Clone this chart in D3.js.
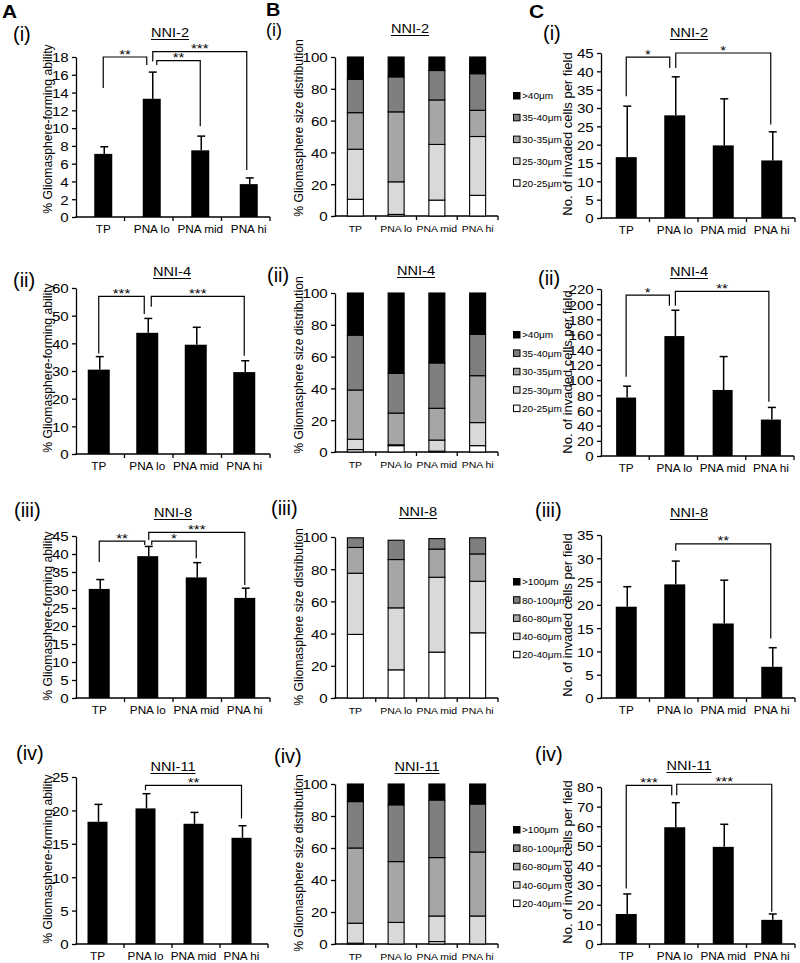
<!DOCTYPE html>
<html><head><meta charset="utf-8">
<script src="https://cdn.jsdelivr.net/npm/d3@7"></script>
<style>
body{margin:0;background:#fff}
svg{display:block}
text{font-family:"Liberation Sans",Arial,Helvetica,sans-serif;fill:#000}
</style>
</head><body>
<svg id="chart" width="800" height="963"></svg>
<script>
// ---------------- DATA ----------------
const categories = ["TP", "PNA lo", "PNA mid", "PNA hi"];

// Column A: % Gliomasphere-forming ability (mean, error)
const formNNI2 = [7.1, 13.3, 7.5, 3.7];
const formNNI2Err = [0.8, 3.0, 1.6, 0.7];
const formNNI2Ticks = [0, 2, 4, 6, 8, 10, 12, 14, 16, 18];
const formNNI4 = [30.5, 43.8, 39.5, 29.6];
const formNNI4Err = [4.7, 5.2, 6.3, 4.1];
const formNNI4Ticks = [0, 10, 20, 30, 40, 50, 60];
const formNNI8 = [30.3, 39.4, 33.5, 27.8];
const formNNI8Err = [2.6, 2.7, 4.1, 2.7];
const formNNI8Ticks = [0, 5, 10, 15, 20, 25, 30, 35, 40, 45];
const formNNI11 = [18.3, 20.3, 18.0, 15.9];
const formNNI11Err = [2.6, 2.2, 1.7, 1.8];
const formNNI11Ticks = [0, 5, 10, 15, 20, 25];

// Column C: No. of invaded cells per field (mean, error)
const invNNI2 = [16.6, 28.0, 19.8, 15.7];
const invNNI2Err = [13.9, 10.5, 12.7, 7.8];
const invNNI2Ticks = [0, 5, 10, 15, 20, 25, 30, 35, 40, 45];
const invNNI4 = [77, 158, 87, 48];
const invNNI4Err = [15, 34, 44, 16];
const invNNI4Ticks = [0, 20, 40, 60, 80, 100, 120, 140, 160, 180, 200, 220];
const invNNI8 = [19.6, 24.4, 16.0, 6.7];
const invNNI8Err = [4.3, 5.0, 9.3, 4.1];
const invNNI8Ticks = [0, 5, 10, 15, 20, 25, 30, 35];
const invNNI11 = [15.3, 59.5, 49.5, 12.3];
const invNNI11Err = [10.2, 12.5, 11.5, 3.0];
const invNNI11Ticks = [0, 10, 20, 30, 40, 50, 60, 70, 80];

// Significance brackets: [from, to, label, level, leftLegEnd, rightLegEnd]
const sigFormNNI2 = [[0, 1, "**", 18.0, 14.5, 17.1], [1, 3, "***", 18.6, 17.5, 5.3], [1, 2, "**", 17.6, 17.1, 10.2]];
const sigFormNNI4 = [[0, 1, "***", 57.0, 36.3, 50.6], [1, 3, "***", 57.0, 53.2, 35.5]];
const sigFormNNI8 = [[0, 1, "**", 43.6, 37.8, 42.5], [1, 3, "***", 46.0, 43.9, 31.4], [1, 2, "*", 43.6, 42.5, 38.8]];
const sigFormNNI11 = [[1, 3, "**", 23.75, 23.0, 18.8]];
const sigInvNNI2 = [[0, 1, "*", 43.9, 33.2, 40.9], [1, 3, "*", 45.0, 40.9, 25.5]];
const sigInvNNI4 = [[0, 1, "*", 212, 104.5, 198], [1, 3, "**", 217, 198, 71.6]];
const sigInvNNI8 = [[1, 3, "**", 33.1, 31.6, 12.8]];
const sigInvNNI11 = [[0, 1, "***", 80.8, 28.3, 75.8], [1, 3, "***", 81.4, 75.8, 16.4]];

// Column B: % Gliomasphere size distribution (segments, bottom to top)
const sizeKeysSmall = ["20-25μm", "25-30μm", "30-35μm", "35-40μm", ">40μm"];
const sizeKeysLarge = ["20-40μm", "40-60μm", "60-80μm", "80-100μm", ">100μm"];
const sizeTicks = [0, 20, 40, 60, 80, 100];
const sizeNNI2 = [[10.5, 31.5, 23, 21, 14], [1, 20.5, 44, 22, 12.5], [10, 35, 28, 18.5, 8.5], [13, 37, 16.5, 23, 10.5]];
const sizeNNI4 = [[1.5, 6.5, 31, 34.5, 26.5], [4, 0.5, 20, 25, 50.5], [0.5, 7, 20, 28.5, 44], [4, 14.5, 29.5, 26, 26]];
const sizeNNI8 = [[39.5, 38, 16, 6, 0], [17.5, 38.5, 30, 12, 0], [28.5, 46.5, 17.5, 6.5, 0], [40.5, 32, 17, 10, 0]];
const sizeNNI11 = [[0.5, 12.5, 47, 29, 11], [0, 13.5, 38, 35.5, 13], [1.5, 16, 36.5, 36, 10], [0, 17.5, 40, 30, 12.5]];

// ---------------- STYLE / LAYOUT ----------------
const segColors = ["#ffffff", "#d9d9d9", "#a6a6a6", "#7f7f7f", "#000000"];
const SX = 1.12; // horizontal text stretch of the original

const svg = d3.select("#chart");

function htext(g, x, y, s, size, anchor, sx, weight) {
  return g.append("text")
    .attr("transform", `translate(${x},${y}) scale(${sx == null ? SX : sx},1)`)
    .attr("text-anchor", anchor || "start")
    .attr("font-size", size)
    .attr("font-weight", weight || "normal")
    .text(s);
}

function frame(L, ticks, yTitle, yTitleSize, title, roman, catSize, catSx) {
  const g = svg.append("g");
  const xb = d3.scaleBand().domain(categories).range([L.x0, L.x1]);
  const y = d3.scaleLinear().domain([0, L.max]).range([L.y0, L.y1]);
  // y axis
  const ya = g.append("g").attr("transform", `translate(${L.x0},0)`)
    .call(d3.axisLeft(y).tickValues(ticks).tickSize(4).tickSizeOuter(0).tickPadding(2.5).tickFormat(d3.format("d")));
  ya.select(".domain").attr("stroke", "#000").attr("stroke-width", 1.3);
  ya.selectAll(".tick line").attr("stroke", "#000").attr("stroke-width", 1.3);
  ya.selectAll(".tick text").attr("font-size", 13.5).attr("font-family", "Liberation Sans, Arial, sans-serif")
    .attr("fill", "#000").attr("dy", "0.36em").attr("transform", `scale(${SX},1)`);
  // x axis
  g.append("line").attr("x1", L.x0 - 0.6).attr("x2", L.x1).attr("y1", L.y0).attr("y2", L.y0)
    .attr("stroke", "#000").attr("stroke-width", 1.3);
  const bounds = categories.slice(1).map(c => xb(c)).concat([L.x1]);
  g.selectAll(".xt").data(bounds).enter().append("line")
    .attr("x1", d => d).attr("x2", d => d).attr("y1", L.y0).attr("y2", L.y0 + 4)
    .attr("stroke", "#000").attr("stroke-width", 1.3);
  const cx = c => xb(c) + xb.bandwidth() / 2 + (L.shift || 0);
  categories.forEach(c => htext(g, cx(c), L.y0 + 15.5, c, catSize, "middle", catSx));
  // y title
  g.append("text").attr("transform", `translate(${L.ytx},${L.yty}) rotate(-90)`)
    .attr("text-anchor", "middle").attr("dominant-baseline", "central")
    .attr("font-size", yTitleSize).text(yTitle);
  // title (underlined)
  const t = htext(g, L.tx, L.ty, title, 13, "middle");
  const w = t.node().getComputedTextLength() * SX;
  g.append("line").attr("x1", L.tx - w / 2).attr("x2", L.tx + w / 2)
    .attr("y1", L.ty + 2.5).attr("y2", L.ty + 2.5).attr("stroke", "#000").attr("stroke-width", 1);
  // roman numeral
  htext(g, L.rx, L.ry, roman, L.rs || 20, "start", 1);
  return {g, xb, y, cx};
}

function barPanel(P) {
  const {g, y, cx} = frame(P.L, P.ticks, P.yTitle, P.yTitleSize, P.title, P.roman, 10.5, SX);
  const bw = P.L.barW;
  // error bars
  categories.forEach((c, i) => {
    const x = cx(c) + 1;
    g.append("line").attr("x1", x).attr("x2", x).attr("y1", y(P.vals[i])).attr("y2", y(P.vals[i] + P.err[i]))
      .attr("stroke", "#000").attr("stroke-width", 1.5);
    g.append("line").attr("x1", x - 4).attr("x2", x + 4).attr("y1", y(P.vals[i] + P.err[i])).attr("y2", y(P.vals[i] + P.err[i]))
      .attr("stroke", "#000").attr("stroke-width", 1.5);
  });
  g.selectAll(".bar").data(P.vals).enter().append("rect")
    .attr("x", (d, i) => cx(categories[i]) - bw / 2).attr("width", bw)
    .attr("y", d => y(d)).attr("height", d => P.L.y0 - y(d)).attr("fill", "#000");
  // brackets
  P.sig.forEach((s, k) => {
    const off = P.legOff[k];
    const xa = cx(categories[s[0]]) + off[0], xc = cx(categories[s[1]]) + off[1];
    g.append("path").attr("d", `M${xa},${y(s[4])}V${y(s[3])}H${xc}V${y(s[5])}`)
      .attr("fill", "none").attr("stroke", "#000").attr("stroke-width", 1.2);
    htext(g, (xa + xc) / 2, y(s[3]) + 1.5, s[2], 12.5, "middle", 1.2);
  });
}

function stackPanel(P) {
  const {g, y, cx} = frame(P.L, sizeTicks, "% Gliomasphere size distribution", 12.2, P.title, P.roman, 9.5, 1.1);
  const bw = P.L.barW;
  const rows = P.data.map((seg, i) => {
    const o = {cat: categories[i]};
    P.keys.forEach((k, j) => o[k] = seg[j]);
    return o;
  });
  const series = d3.stack().keys(P.keys)(rows);
  series.forEach((s, j) => {
    g.selectAll(".s" + j).data(s).enter().append("rect")
      .attr("x", d => cx(d.data.cat) - bw / 2).attr("width", bw)
      .attr("y", d => y(d[1])).attr("height", d => Math.max(0, y(d[0]) - y(d[1])))
      .attr("fill", segColors[j]).attr("stroke", "#000").attr("stroke-width", 1.1);
  });
  // legend (largest on top)
  const keysRev = P.keys.slice().reverse();
  keysRev.forEach((k, i) => {
    const yy = P.L.lg0 + i * P.L.lgs;
    g.append("rect").attr("x", 513.5).attr("y", yy - 3.5).attr("width", 6.5).attr("height", 6.5)
      .attr("fill", segColors[segColors.length - 1 - i]).attr("stroke", "#000").attr("stroke-width", 1);
    htext(g, 522, yy + 3.4, k, 9.3, "start", 1.08);
  });
}

// ---------------- PANELS ----------------
const gfa = "% Gliomasphere-forming ability";
const inv = "No. of invaded cells per field";

barPanel({vals: formNNI2, err: formNNI2Err, ticks: formNNI2Ticks, sig: sigFormNNI2, legOff: [[0, -5], [1, -2], [5, 0]],
  title: "NNI-2", roman: "(i)", yTitle: gfa, yTitleSize: 12.2,
  L: {x0: 76, x1: 270, y0: 217, y1: 57, max: 18, barW: 18, shift: 3, rx: 13, ry: 41, tx: 170, ty: 37, ytx: 48, yty: 129}});
barPanel({vals: formNNI4, err: formNNI4Err, ticks: formNNI4Ticks, sig: sigFormNNI4, legOff: [[0, -3], [4, 0]],
  title: "NNI-4", roman: "(ii)", yTitle: gfa, yTitleSize: 12.2,
  L: {x0: 76, x1: 270, y0: 454, y1: 288, max: 60, barW: 22, shift: -1.5, rx: 13, ry: 287, tx: 172, ty: 276, ytx: 48, yty: 368}});
barPanel({vals: formNNI8, err: formNNI8Err, ticks: formNNI8Ticks, sig: sigFormNNI8, legOff: [[0, -3], [1, 0], [4, 0]],
  title: "NNI-8", roman: "(iii)", yTitle: gfa, yTitleSize: 12.2,
  L: {x0: 76, x1: 270, y0: 698, y1: 536, max: 45, barW: 21, shift: -1, rx: 14, ry: 517, tx: 173, ty: 517, ytx: 48, yty: 616}});
barPanel({vals: formNNI11, err: formNNI11Err, ticks: formNNI11Ticks, sig: sigFormNNI11, legOff: [[0, 0]],
  title: "NNI-11", roman: "(iv)", yTitle: gfa, yTitleSize: 12.2,
  L: {x0: 76, x1: 268, y0: 944, y1: 777, max: 25, barW: 20, shift: -2.5, rx: 16, ry: 760, tx: 173, ty: 771, ytx: 48, yty: 859}});

stackPanel({data: sizeNNI2, keys: sizeKeysSmall, title: "NNI-2", roman: "(i)",
  L: {x0: 335, x1: 498, y0: 216, y1: 57, max: 100, barW: 16, shift: 0, rx: 266, ry: 36, rs: 18, tx: 410, ty: 33, ytx: 299, yty: 128, lg0: 96, lgs: 21.8}});
stackPanel({data: sizeNNI4, keys: sizeKeysSmall, title: "NNI-4", roman: "(ii)",
  L: {x0: 335, x1: 498, y0: 452, y1: 293, max: 100, barW: 16, shift: 0, rx: 267, ry: 282, tx: 416, ty: 275, ytx: 299, yty: 365, lg0: 335, lgs: 18.4}});
stackPanel({data: sizeNNI8, keys: sizeKeysLarge, title: "NNI-8", roman: "(iii)",
  L: {x0: 335, x1: 498, y0: 698, y1: 537, max: 100, barW: 16, shift: 0, rx: 271, ry: 515, tx: 418, ty: 516, ytx: 299, yty: 617, lg0: 582, lgs: 18.2}});
stackPanel({data: sizeNNI11, keys: sizeKeysLarge, title: "NNI-11", roman: "(iv)",
  L: {x0: 335, x1: 498, y0: 944, y1: 784, max: 100, barW: 16, shift: 0, rx: 274, ry: 763, tx: 417, ty: 771, ytx: 299, yty: 863, lg0: 830, lgs: 18.4}});

barPanel({vals: invNNI2, err: invNNI2Err, ticks: invNNI2Ticks, sig: sigInvNNI2, legOff: [[0, -5], [1, -1]],
  title: "NNI-2", roman: "(i)", yTitle: inv, yTitleSize: 13,
  L: {x0: 601, x1: 795, y0: 218, y1: 53, max: 45, barW: 21, shift: 1, rx: 543, ry: 40, tx: 689, ty: 37, ytx: 567, yty: 134}});
barPanel({vals: invNNI4, err: invNNI4Err, ticks: invNNI4Ticks, sig: sigInvNNI4, legOff: [[0, -5], [1, -2]],
  title: "NNI-4", roman: "(ii)", yTitle: inv, yTitleSize: 13,
  L: {x0: 601, x1: 794, y0: 456, y1: 289, max: 220, barW: 20, shift: 1, rx: 538, ry: 285, tx: 689, ty: 276, ytx: 567, yty: 372}});
barPanel({vals: invNNI8, err: invNNI8Err, ticks: invNNI8Ticks, sig: sigInvNNI8, legOff: [[1, -1]],
  title: "NNI-8", roman: "(iii)", yTitle: inv, yTitleSize: 13,
  L: {x0: 601, x1: 795, y0: 698, y1: 535, max: 35, barW: 21, shift: 1, rx: 535, ry: 517, tx: 689, ty: 517, ytx: 567, yty: 615}});
barPanel({vals: invNNI11, err: invNNI11Err, ticks: invNNI11Ticks, sig: sigInvNNI11, legOff: [[0, -3], [2, 0]],
  title: "NNI-11", roman: "(iv)", yTitle: inv, yTitleSize: 13,
  L: {x0: 601, x1: 795, y0: 944, y1: 787, max: 80, barW: 21, shift: 1, rx: 535, ry: 761, tx: 689, ty: 770, ytx: 567, yty: 862}});

// Big panel letters
htext(svg, 2, 18, "A", 19, "start", 1.1, "bold");
htext(svg, 266, 15.5, "B", 18, "start", 1.1, "bold");
htext(svg, 529, 18, "C", 19, "start", 1.1, "bold");
</script>
</body></html>
